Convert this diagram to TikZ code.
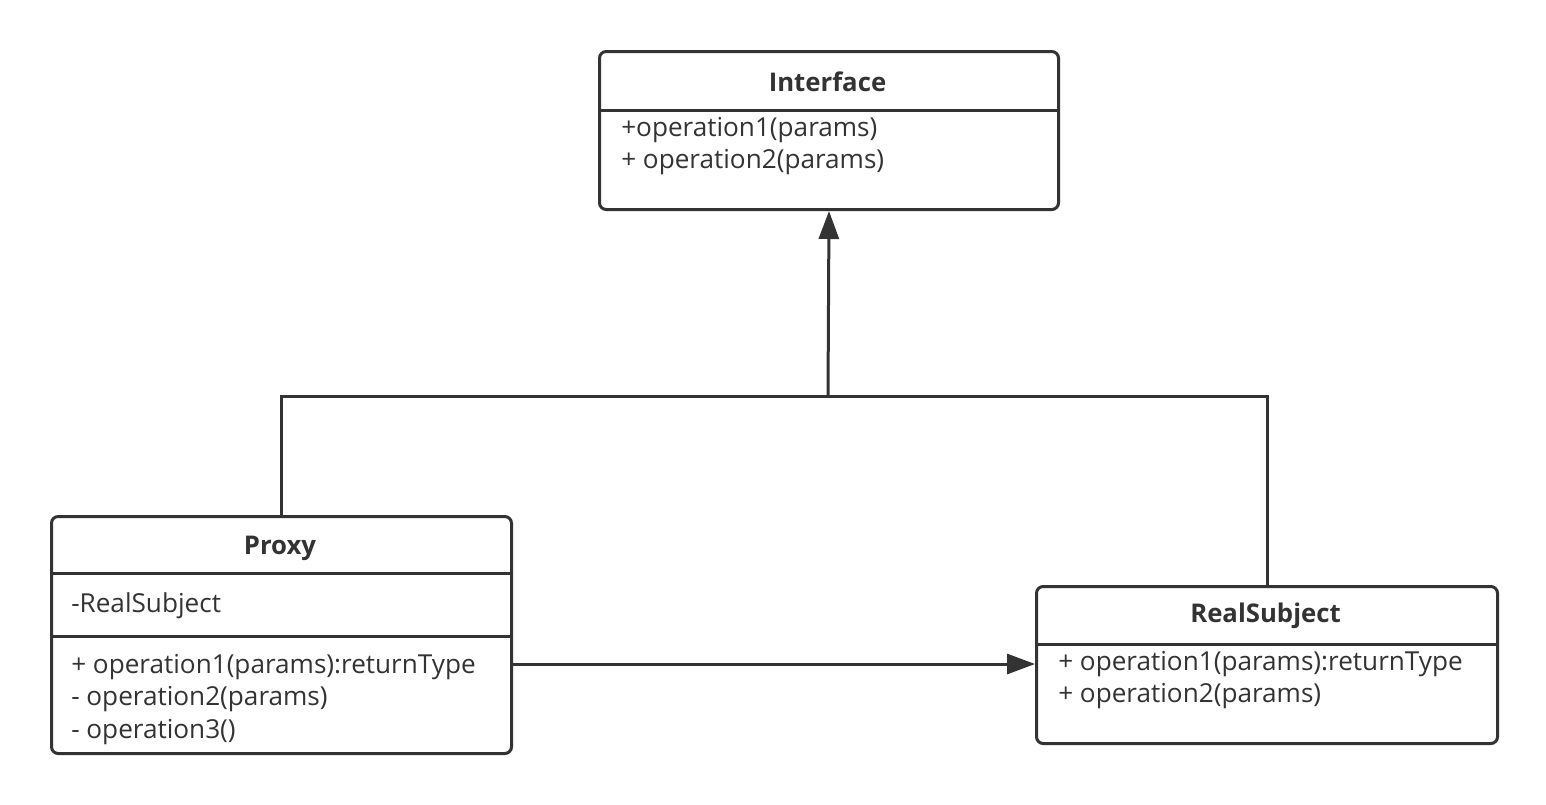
\documentclass[tikz,border=0pt]{standalone}
\usepackage{fontspec}
\setmainfont{Open Sans}
\usepackage{tikz}
\usetikzlibrary{arrows.meta,positioning,calc}
\definecolor{umlCol}{RGB}{51,51,51}
\tikzset{
  umlbox/.style={draw=umlCol,line width=2.25pt,rounded corners=5pt,fill=white,
                 anchor=north west,inner sep=0pt},
  cname/.style={font=\fontsize{19.3}{22}\selectfont\bfseries,text=umlCol},
  memb/.style={font=\fontsize{19.6}{22}\selectfont,text=umlCol,anchor=west,inner sep=0pt},
  sep/.style={draw=umlCol,line width=2.25pt},
  wire/.style={draw=umlCol,line width=2.25pt},
  tip/.style={wire,-{Triangle[length=21pt,width=15pt]}},
}

\begin{document}
\begin{tikzpicture}[x=0.75pt,y=-0.75pt]
    \useasboundingbox (0,0) rectangle (1546,804);
    % --- Interface (top) ---
    \node[umlbox,minimum width=344.25pt,minimum height=118.5pt] (iface) at (598,50) {};
    \node[cname] (ifaceName) at (827.5,82) {Interface};
    \draw[sep] ([yshift=-45pt]iface.north west) -- ([yshift=-45pt]iface.north east);
    \node[memb] (ifaceOp1) at (621,130) {+operation1(params)};
    \node[memb] (ifaceOp2) at (621,162) {+ operation2(params)};
    % --- Proxy (bottom left) ---
    \node[umlbox,minimum width=345pt,minimum height=177.75pt] (proxy) at (50,515) {};
    \node[cname] (proxyName) at (280,548) {Proxy};
    \draw[sep] ([yshift=-43.5pt]proxy.north west) -- ([yshift=-43.5pt]proxy.north east);
    \node[memb] (proxyAttr) at (71,606) {-RealSubject};
    \draw[sep] ([yshift=-90.75pt]proxy.north west) -- ([yshift=-90.75pt]proxy.north east);
    \node[memb] (proxyOp1) at (71,667) {+ operation1(params):returnType};
    \node[memb] (proxyOp2) at (71,699) {- operation2(params)};
    \node[memb] (proxyOp3) at (71,732) {- operation3()};
    % --- RealSubject (bottom right) ---
    \node[umlbox,minimum width=345.75pt,minimum height=117.75pt] (real) at (1035,585) {};
    \node[cname] (realName) at (1265.5,616) {RealSubject};
    \draw[sep] ([yshift=-44.25pt]real.north west) -- ([yshift=-44.25pt]real.north east);
    \node[memb] (realOp1) at (1058,664) {+ operation1(params):returnType};
    \node[memb] (realOp2) at (1058,696) {+ operation2(params)};
    % --- connectors ---
    \coordinate (join) at (828,396);
    \draw[wire] (proxy.north) |- (join);
    \draw[wire] (real.north) |- (join);
    \draw[tip] (join) -- (iface.south);
    \draw[tip] (proxy.east |- realOp1) -- (real.west |- realOp1);
\end{tikzpicture}
\end{document}
